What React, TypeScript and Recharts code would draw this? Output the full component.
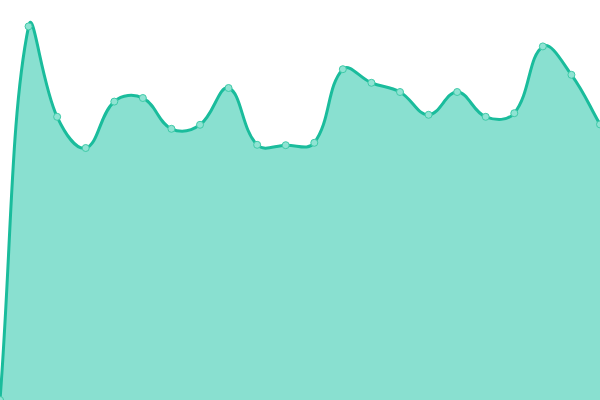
import { AreaChart, Area, XAxis, YAxis } from 'recharts'

const categories = ['1','2','3','4','5','6','7','8','9','10','11','12','13','14','15','16','17','18','19','20','21','22']
const values = [0, 93.4, 70.8, 63, 74.6, 75.5, 67.8, 68.8, 78, 63.8, 63.7, 64.3, 82.7, 79.3, 77, 71.3, 77, 70.8, 71.7, 88.4, 81.3, 68.9]

const data = categories.map((name, i) => ({ name, value: values[i] }))

const TENSION = 0.4

// cardinal-ish spline (segment-length weighted), overshoots like the reference
function splineCurve(context: any) {
  let pts: number[][] = []
  let line = NaN
  const draw = () => {
    const n = pts.length
    if (!n) return
    if (line) context.lineTo(pts[0][0], pts[0][1])
    else context.moveTo(pts[0][0], pts[0][1])
    if (n < 2) return
    const prevCp: number[][] = []
    const nextCp: number[][] = []
    for (let i = 0; i < n; i++) {
      const p = pts[i]
      const a = pts[i - 1] ?? p
      const b = pts[i + 1] ?? p
      const d01 = Math.hypot(p[0] - a[0], p[1] - a[1])
      const d12 = Math.hypot(b[0] - p[0], b[1] - p[1])
      let s01 = d01 / (d01 + d12)
      let s12 = d12 / (d01 + d12)
      if (isNaN(s01)) s01 = 0
      if (isNaN(s12)) s12 = 0
      const fa = TENSION * s01
      const fb = TENSION * s12
      prevCp[i] = [p[0] - fa * (b[0] - a[0]), p[1] - fa * (b[1] - a[1])]
      nextCp[i] = [p[0] + fb * (b[0] - a[0]), p[1] + fb * (b[1] - a[1])]
    }
    for (let i = 1; i < n; i++) {
      context.bezierCurveTo(nextCp[i - 1][0], nextCp[i - 1][1], prevCp[i][0], prevCp[i][1], pts[i][0], pts[i][1])
    }
  }
  return {
    areaStart() { line = 0 },
    areaEnd() { line = NaN },
    lineStart() { pts = [] },
    lineEnd() {
      draw()
      if (line || (line !== 0 && pts.length === 1)) context.closePath()
      line = 1 - line
    },
    point(x: number, y: number) { pts.push([+x, +y]) },
  }
}

export default function App() {
  return (
    <div style={{ position: 'absolute', top: 0, left: 0, width: 600, height: 400 }}>
      <AreaChart width={600} height={400} data={data} margin={{ top: 0, right: 0, bottom: 0, left: 0 }}>
        <XAxis dataKey="name" hide padding={{ left: 0, right: 0 }} />
        <YAxis hide domain={[0, 100]} />
        <Area
          type={splineCurve as any}
          dataKey="value"
          stroke="#1abc9c"
          strokeWidth={3}
          fill="#89e0d0"
          fillOpacity={1}
          dot={{ r: 3.5, fill: '#8fe3d3', stroke: '#3fcaa8', strokeWidth: 1, fillOpacity: 1 }}
          activeDot={false}
          isAnimationActive={false}
        />
      </AreaChart>
    </div>
  )
}
